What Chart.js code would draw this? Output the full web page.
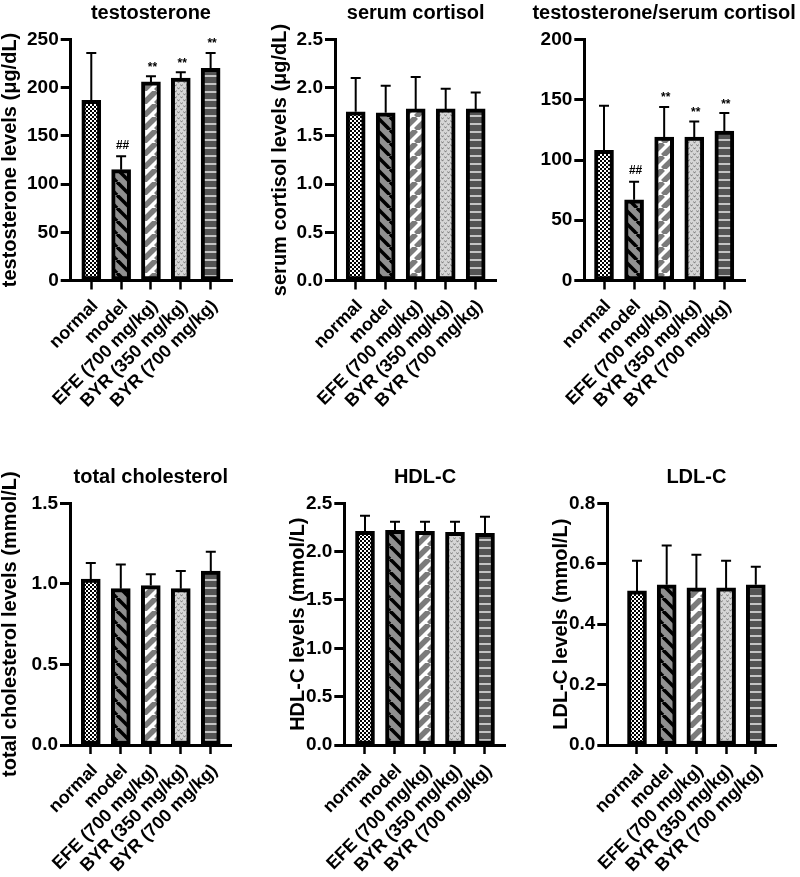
<!DOCTYPE html>
<html>
<head>
<meta charset="utf-8">
<script src="https://cdn.jsdelivr.net/npm/chart.js@4.4.1/dist/chart.umd.min.js"></script>
<style>
  html, body { margin: 0; padding: 0; background: #fff; }
  #wrap { position: relative; width: 800px; height: 877px; overflow: hidden; background: #fff; }
  #wrap canvas { position: absolute; left: 0; top: 0; }
</style>
</head>
<body>
<div id="wrap">
  <canvas id="c1" width="800" height="877"></canvas>
  <canvas id="c2" width="800" height="877"></canvas>
  <canvas id="c3" width="800" height="877"></canvas>
  <canvas id="c4" width="800" height="877"></canvas>
  <canvas id="c5" width="800" height="877"></canvas>
  <canvas id="c6" width="800" height="877"></canvas>
</div>
<script>
// grupos (eje x)
const groups = ['normal', 'model', 'EFE (700 mg/kg)', 'BYR (350 mg/kg)', 'BYR (700 mg/kg)'];

// testosterone
const testoMean = [187, 115, 206, 210, 220];
const testoErr = [236, 129, 212, 216, 236];
const testoSig = ['', '##', '**', '**', '**'];
const testoTicks = ['0', '50', '100', '150', '200', '250'];

// serum cortisol
const cortMean = [1.75, 1.74, 1.78, 1.78, 1.78];
const cortErr = [2.10, 2.02, 2.11, 1.99, 1.95];
const cortTicks = ['0.0', '0.5', '1.0', '1.5', '2.0', '2.5'];

// testosterone / serum cortisol
const ratioMean = [108, 67, 119, 119, 124];
const ratioErr = [145, 82, 144, 132, 139];
const ratioSig = ['', '##', '**', '**', '**'];
const ratioTicks = ['0', '50', '100', '150', '200'];

// total cholesterol
const tcMean = [1.03, 0.97, 0.99, 0.97, 1.08];
const tcErr = [1.13, 1.12, 1.06, 1.08, 1.20];
const tcTicks = ['0.0', '0.5', '1.0', '1.5'];

// HDL-C
const hdlMean = [2.21, 2.22, 2.21, 2.20, 2.19];
const hdlErr = [2.37, 2.31, 2.31, 2.31, 2.36];
const hdlTicks = ['0.0', '0.5', '1.0', '1.5', '2.0', '2.5'];

// LDL-C
const ldlMean = [0.51, 0.53, 0.52, 0.52, 0.53];
const ldlErr = [0.61, 0.66, 0.63, 0.61, 0.59];
const ldlTicks = ['0.0', '0.2', '0.4', '0.6', '0.8'];

const FONT = '"Liberation Sans", Arial, Helvetica, sans-serif';

// tramas de las barras
function tile(w, h, draw) {
    const c = document.createElement('canvas');
    c.width = w; c.height = h;
    draw(c.getContext('2d'), w, h);
    return c.getContext('2d').createPattern(c, 'repeat');
}

const patterns = [
    tile(4, 4, g => {
        g.fillStyle = '#fff'; g.fillRect(0, 0, 4, 4);
        g.fillStyle = '#000'; g.fillRect(0, 0, 2, 2); g.fillRect(2, 2, 2, 2);
    }),
    tile(13, 13, (g, w) => {
        g.fillStyle = '#909090'; g.fillRect(0, 0, w, w);
        g.strokeStyle = '#000'; g.lineWidth = 3.6;
        for (const d of [-w, 0, w]) { g.beginPath(); g.moveTo(d, 0); g.lineTo(d + w, w); g.stroke(); }
    }),
    tile(13, 13, (g, w) => {
        g.fillStyle = '#fff'; g.fillRect(0, 0, w, w);
        g.strokeStyle = '#7b7b7b'; g.lineWidth = 5.5;
        for (const d of [-w, 0, w]) { g.beginPath(); g.moveTo(d, w); g.lineTo(d + w, 0); g.stroke(); }
    }),
    tile(6, 6, g => {
        g.fillStyle = '#d6d6d6'; g.fillRect(0, 0, 6, 6);
        g.strokeStyle = '#7a7a7a'; g.lineWidth = 1;
        for (const [x, y] of [[0, 0.5], [3, 3.5]]) {
            g.beginPath(); g.moveTo(x + 0.5, y); g.lineTo(x + 1.5, y + 1.6); g.lineTo(x + 2.5, y); g.stroke();
        }
    }),
    tile(8, 8, g => {
        g.fillStyle = '#545454'; g.fillRect(0, 0, 8, 8);
        g.fillStyle = '#c4c4c4'; g.fillRect(0, 3, 8, 2);
    })
];

// barras de error, asteriscos y titulo del panel
function deco(p) {
    return {
        id: 'deco',
        afterDatasetsDraw(chart) {
            const ctx = chart.ctx, ys = chart.scales.y, xs = chart.scales.x;
            const bars = chart.getDatasetMeta(0).data;
            ctx.save();
            ctx.strokeStyle = '#000';
            ctx.lineWidth = 2;
            bars.forEach((b, i) => {
                const yt = ys.getPixelForValue(p.err[i]);
                ctx.beginPath();
                ctx.moveTo(b.x, b.y); ctx.lineTo(b.x, yt);
                ctx.moveTo(b.x - 5, yt); ctx.lineTo(b.x + 5, yt);
                ctx.stroke();
                const s = p.sig ? p.sig[i] : '';
                if (s) {
                    ctx.font = 'bold 12px ' + FONT;
                    ctx.fillStyle = '#000';
                    ctx.textAlign = 'center';
                    ctx.textBaseline = 'alphabetic';
                    const m = ctx.measureText(s);
                    const mid = (m.actualBoundingBoxAscent - m.actualBoundingBoxDescent) / 2;
                    ctx.fillText(s, b.x + 1.5, yt - 12 + mid);
                }
            });
            ctx.font = 'bold 20px ' + FONT;
            ctx.fillStyle = '#000';
            ctx.textAlign = 'center';
            ctx.textBaseline = 'alphabetic';
            ctx.fillText(p.title, xs.getPixelForValue(2), chart.chartArea.top - 20.7);
            ctx.restore();
        }
    };
}

function makePanel(id, p) {
    const W = 800, H = 877;
    const xH = Math.min(150, H - p.bottom);
    return new Chart(document.getElementById(id), {
        type: 'bar',
        data: {
            datasets: [{
                data: p.mean.map((v, i) => ({ x: i, y: v })),
                backgroundColor: patterns,
                borderColor: '#000',
                borderWidth: 4,
                borderSkipped: false,
                barThickness: 19
            }]
        },
        options: {
            responsive: false,
            animation: false,
            events: [],
            layout: { padding: { left: p.left - p.yW, right: W - p.right, top: p.top, bottom: H - p.bottom - xH } },
            plugins: { legend: { display: false }, tooltip: { enabled: false } },
            scales: {
                x: {
                    type: 'linear',
                    min: p.xMin, max: p.xMax,
                    offset: false,
                    afterBuildTicks: s => { s.ticks = groups.map((g, i) => ({ value: i })); },
                    afterFit: s => { s.height = xH; },
                    ticks: {
                        callback: v => groups[v],
                        minRotation: 45, maxRotation: 45, autoSkip: false,
                        color: '#000', font: { family: FONT, size: 18, weight: 'bold' },
                        padding: 6, labelOffset: 4
                    },
                    grid: { display: true, offset: false, drawOnChartArea: false, drawTicks: true, tickLength: 9, tickWidth: 2.5, tickColor: '#000' },
                    border: { display: true, color: '#000', width: 3 }
                },
                y: {
                    min: Number(p.ticks[0]), max: Number(p.ticks[p.ticks.length - 1]),
                    afterBuildTicks: s => { s.ticks = p.ticks.map(t => ({ value: Number(t) })); },
                    afterFit: s => { s.width = p.yW; },
                    ticks: {
                        callback: (v, i) => p.ticks[i],
                        color: '#000', font: { family: FONT, size: 19, weight: 'bold' }, padding: 2
                    },
                    grid: { drawOnChartArea: false, drawTicks: true, tickLength: 10, tickWidth: 3, tickColor: '#000' },
                    border: { display: true, color: '#000', width: 3 },
                    title: {
                        display: !!p.yTitle, text: p.yTitle || '', color: '#000',
                        font: { family: FONT, size: 20, weight: 'bold', lineHeight: 1 },
                        padding: { top: 0, bottom: 0 }
                    }
                }
            }
        },
        plugins: [deco(p)]
    });
}

makePanel('c1', {
    title: 'testosterone', yTitle: 'testosterone levels (μg/dL)',
    mean: testoMean, err: testoErr, sig: testoSig, ticks: testoTicks,
    left: 70.7, right: 233, top: 39.5, bottom: 280.5, yW: 70.7, xMin: -0.69, xMax: 4.75
});
makePanel('c2', {
    title: 'serum cortisol', yTitle: 'serum cortisol levels (μg/dL)',
    mean: cortMean, err: cortErr, ticks: cortTicks,
    left: 335, right: 496.7, top: 39.5, bottom: 280.5, yW: 64.2, xMin: -0.69, xMax: 4.70
});
makePanel('c3', {
    title: 'testosterone/serum cortisol',
    mean: ratioMean, err: ratioErr, sig: ratioSig, ticks: ratioTicks,
    left: 584.3, right: 745, top: 39.5, bottom: 280.5, yW: 50, xMin: -0.655, xMax: 4.687
});
makePanel('c4', {
    title: 'total cholesterol', yTitle: 'total cholesterol levels (mmol/L)',
    mean: tcMean, err: tcErr, ticks: tcTicks,
    left: 70, right: 231.7, top: 503.3, bottom: 745, yW: 70, xMin: -0.693, xMax: 4.697
});
makePanel('c5', {
    title: 'HDL-C', yTitle: 'HDL-C levels (mmol/L)',
    mean: hdlMean, err: hdlErr, ticks: hdlTicks,
    left: 344.3, right: 505, top: 503.3, bottom: 745, yW: 55.5, xMin: -0.69, xMax: 4.667
});
makePanel('c6', {
    title: 'LDL-C', yTitle: 'LDL-C levels (mmol/L)',
    mean: ldlMean, err: ldlErr, ticks: ldlTicks,
    left: 607.3, right: 776.7, top: 503.3, bottom: 745, yW: 55.5, xMin: -1.0, xMax: 4.704
});
</script>
</body>
</html>
